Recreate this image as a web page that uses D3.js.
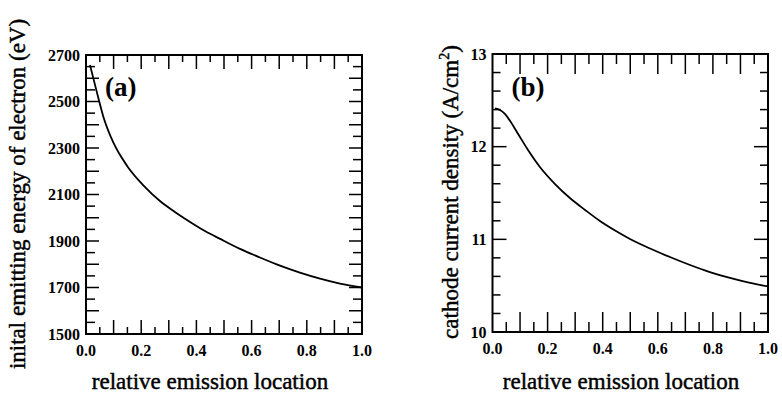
<!DOCTYPE html>
<html>
<head>
<meta charset="utf-8">
<script src="https://cdn.jsdelivr.net/npm/d3@7/dist/d3.min.js"></script>
<style>
  body { margin: 0; background: #fff; }
  svg { display: block; }
  text { font-family: "Liberation Serif", "Times New Roman", serif; fill: #000; }
</style>
</head>
<body>
<script>
// panel (a): initial emitting energy vs relative emission location
const aLocation = [0.0145, 0.04, 0.062, 0.098, 0.149, 0.214, 0.268, 0.322, 0.377, 0.431, 0.486, 0.558, 0.63, 0.703, 0.775, 0.848, 0.92, 1.0]
const aEnergy = [2657, 2537, 2438, 2326, 2223, 2132, 2072, 2025, 1982, 1943, 1909, 1866, 1829, 1794, 1764, 1738, 1717, 1700]
const aTicks = [1500, 1700, 1900, 2100, 2300, 2500, 2700]

// panel (b): cathode current density vs relative emission location
const bLocation = [0.009, 0.027, 0.045, 0.064, 0.093, 0.129, 0.172, 0.227, 0.281, 0.336, 0.39, 0.445, 0.499, 0.572, 0.644, 0.717, 0.789, 0.862, 0.935, 1.0]
const bDensity = [12.412, 12.396, 12.353, 12.277, 12.137, 11.964, 11.781, 11.597, 11.446, 11.317, 11.198, 11.095, 11.004, 10.901, 10.809, 10.723, 10.647, 10.583, 10.529, 10.491]
const bTicks = [10, 11, 12, 13]

const xTicks = [0, 0.2, 0.4, 0.6, 0.8, 1.0]

const svg = d3.select('body').append('svg')
    .attr('width', 782)
    .attr('height', 399)

const drawPanel = (opt) => {
    const x = d3.scaleLinear().domain([0, 1]).range([opt.left, opt.right])
    const y = d3.scaleLinear().domain(opt.yDomain).range([opt.bottom, opt.top])
    const g = svg.append('g')

    // x ticks every 0.05, long ones on 0.1
    const xt = d3.range(1, 20).map(i => i * 0.05)
    xt.forEach((v, i) => {
        const len = (i % 2 === 1) ? opt.xLong : opt.xShort
        g.append('line')
            .attr('x1', x(v)).attr('x2', x(v))
            .attr('y1', opt.bottom).attr('y2', opt.bottom - len)
            .attr('stroke', '#000').attr('stroke-width', 1.5)
        g.append('line')
            .attr('x1', x(v)).attr('x2', x(v))
            .attr('y1', opt.top).attr('y2', opt.top + len)
            .attr('stroke', '#000').attr('stroke-width', 1.5)
    })

    // y ticks on both sides
    const [y0, y1] = opt.yDomain
    const n = Math.round((y1 - y0) / opt.yMinor)
    for (let i = 1; i < n; i++) {
        const v = y0 + i * opt.yMinor
        const r = (v - y0) / opt.yMajor
        const major = Math.abs(r - Math.round(r)) < 1e-6
        const len = major ? opt.yLong : opt.yShort
        g.append('line')
            .attr('x1', opt.left).attr('x2', opt.left + len)
            .attr('y1', y(v)).attr('y2', y(v))
            .attr('stroke', '#000').attr('stroke-width', 1.5)
        g.append('line')
            .attr('x1', opt.right).attr('x2', opt.right - len)
            .attr('y1', y(v)).attr('y2', y(v))
            .attr('stroke', '#000').attr('stroke-width', 1.5)
    }

    // frame
    g.append('rect')
        .attr('x', opt.left).attr('y', opt.top)
        .attr('width', opt.right - opt.left)
        .attr('height', opt.bottom - opt.top)
        .attr('fill', 'none')
        .attr('stroke', '#000')
        .attr('stroke-width', 2)

    // tick labels
    g.selectAll('.xl').data(xTicks).enter()
        .append('text')
        .attr('x', d => x(d))
        .attr('y', opt.bottom + 22)
        .attr('text-anchor', 'middle')
        .attr('font-size', 16)
        .attr('font-weight', 'bold')
        .text(d => d3.format('.1f')(d))

    g.selectAll('.yl').data(opt.yLabels).enter()
        .append('text')
        .attr('x', opt.left - 6)
        .attr('y', d => y(d))
        .attr('dy', '0.35em')
        .attr('text-anchor', 'end')
        .attr('font-size', 16)
        .attr('font-weight', 'bold')
        .text(String)

    // curve
    const pts = opt.xs.map((v, i) => [v, opt.ys[i]])
    g.append('path')
        .datum(pts)
        .attr('fill', 'none')
        .attr('stroke', '#000')
        .attr('stroke-width', 1.8)
        .attr('d', d3.line().x(d => x(d[0])).y(d => y(d[1])).curve(d3.curveMonotoneX))

    // panel letter
    g.append('text')
        .attr('x', opt.left + 19)
        .attr('y', 96)
        .attr('font-size', 27)
        .attr('font-weight', 'bold')
        .text(opt.letter)

    // x title
    g.append('text')
        .attr('x', opt.xTitleX)
        .attr('y', 389)
        .attr('text-anchor', 'middle')
        .attr('font-size', 23)
        .attr('stroke', '#000')
        .attr('stroke-width', 0.45)
        .text('relative emission location')

    return g
}

const ga = drawPanel({
    left: 86, right: 362, top: 55, bottom: 334,
    yDomain: [1500, 2700], yMinor: 50, yMajor: 100,
    yLabels: aTicks, xs: aLocation, ys: aEnergy,
    xLong: 14, xShort: 7, yLong: 13, yShort: 9,
    letter: '(a)', xTitleX: 210
})

ga.append('text')
    .attr('transform', 'translate(25,194) rotate(-90)')
    .attr('text-anchor', 'middle')
    .attr('font-size', 23)
    .attr('stroke', '#000')
    .attr('stroke-width', 0.45)
    .text('inital emitting energy of electron (eV)')

const gb = drawPanel({
    left: 492.5, right: 768, top: 54, bottom: 332,
    yDomain: [10, 13], yMinor: 0.2, yMajor: 1,
    yLabels: bTicks, xs: bLocation, ys: bDensity,
    xLong: 20, xShort: 10, yLong: 14, yShort: 8,
    letter: '(b)', xTitleX: 621
})

const bt = gb.append('text')
    .attr('transform', 'translate(458,192) rotate(-90)')
    .attr('text-anchor', 'middle')
    .attr('font-size', 23)
    .attr('stroke', '#000')
    .attr('stroke-width', 0.45)
bt.append('tspan').text('cathode current density (A/cm')
bt.append('tspan').attr('dy', -9).attr('font-size', 14).text('2')
bt.append('tspan').attr('dy', 9).text(')')
</script>
</body>
</html>
